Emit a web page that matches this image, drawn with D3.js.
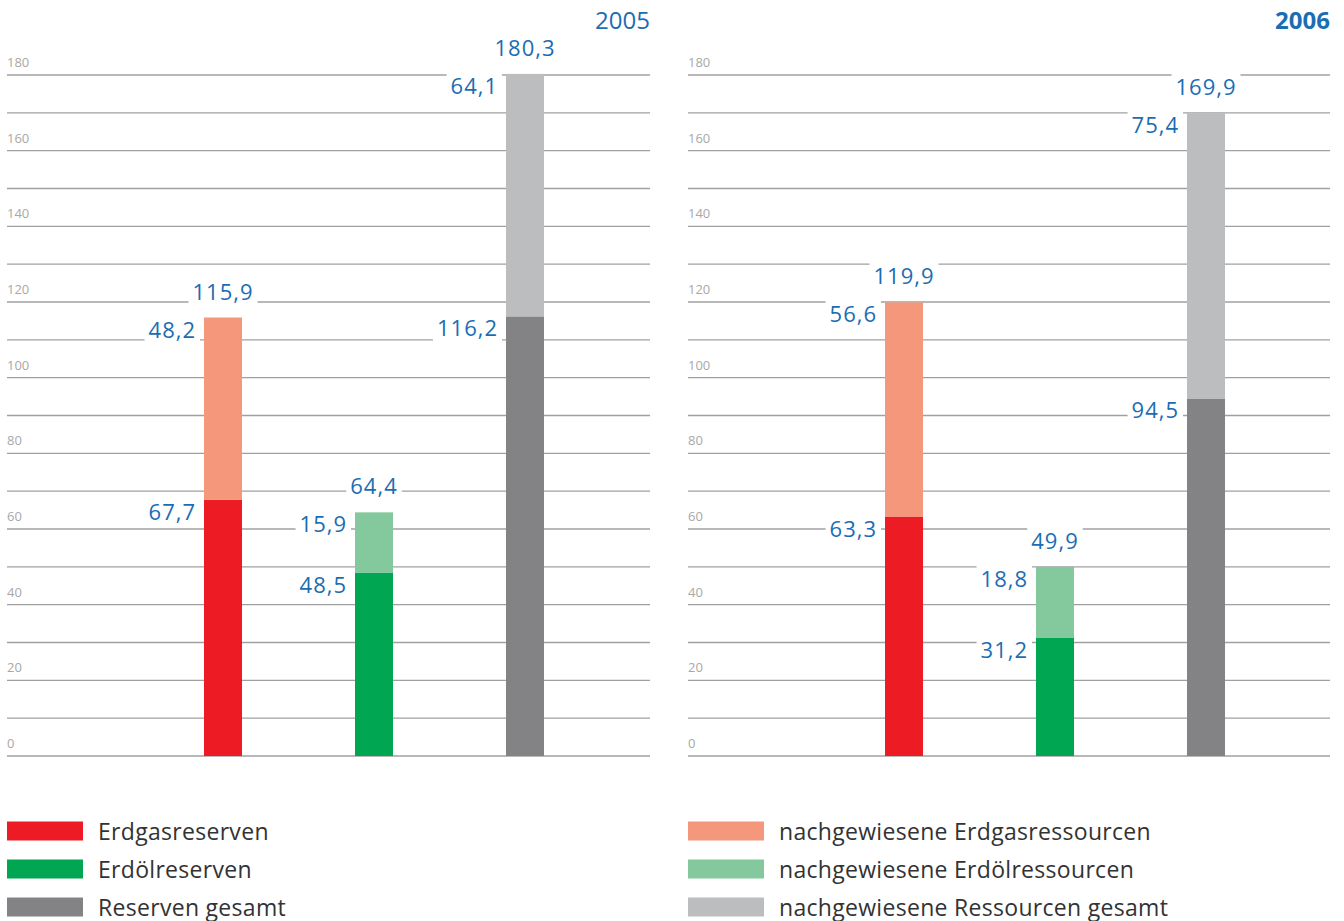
<!DOCTYPE html>
<html><head><meta charset="utf-8">
<script src="https://cdn.jsdelivr.net/npm/d3@7"></script>
<style>
html,body{margin:0;padding:0;background:#fff;}
svg{display:block;font-family:"Open Sans",sans-serif;}
</style></head>
<body><svg id="chart" width="1344" height="921"></svg>
<script>
// ---- data ----
const years = ["2005", "2006"];
const categories = ["Erdgas", "Erdöl", "Gesamt"];
const reserves2005 = [67.7, 48.5, 116.2];
const resources2005 = [48.2, 15.9, 64.1];
const totals2005 = [115.9, 64.4, 180.3];
const reserves2006 = [63.3, 31.2, 94.5];
const resources2006 = [56.6, 18.8, 75.4];
const totals2006 = [119.9, 49.9, 169.9];
const yTicks = [0, 20, 40, 60, 80, 100, 120, 140, 160, 180];
const legendLeft = ["Erdgasreserven", "Erdölreserven", "Reserven gesamt"];
const legendRight = ["nachgewiesene Erdgasressourcen", "nachgewiesene Erdölressourcen", "nachgewiesene Ressourcen gesamt"];

const reserveColors = ["#ed1c24", "#00a651", "#838385"];
const resourceColors = ["#f4977a", "#84c99d", "#bcbdbf"];
const blue = "#1b6db3";
const fmt = v => d3.format(".1f")(v).replace(".", ",");

const svg = d3.select("#chart");
const y = d3.scaleLinear().domain([0, 180]).range([756, 75]);
const gridVals = d3.range(0, 181, 10);

const panels = [
  {year: years[0], x0: 7, x1: 650, res: reserves2005, rsc: resources2005, tot: totals2005, bold: false},
  {year: years[1], x0: 688, x1: 1330, res: reserves2006, rsc: resources2006, tot: totals2006, bold: true}
];

panels.forEach(p => {
  const g = svg.append("g");
  const x = d3.scalePoint().domain(categories).range([p.x0 + 216, p.x0 + 518]);
  const bw = 38;
  // grid
  g.append("g").selectAll("line").data(gridVals).join("line")
    .attr("x1", p.x0).attr("x2", p.x1)
    .attr("y1", d => y(d)).attr("y2", d => y(d))
    .attr("stroke", "#a0a0a0").attr("stroke-width", 1.4);
  // tick labels
  g.append("g").selectAll("text").data(yTicks).join("text")
    .attr("x", p.x0).attr("y", d => y(d) - 8)
    .attr("fill", "#a8a8a8").attr("font-size", 13)
    .text(d => d);
  // bars
  categories.forEach((c, i) => {
    const cx = x(c);
    g.append("rect").attr("x", cx - bw / 2).attr("width", bw)
      .attr("y", y(p.res[i])).attr("height", y(0) - y(p.res[i]))
      .attr("fill", reserveColors[i]);
    g.append("rect").attr("x", cx - bw / 2).attr("width", bw)
      .attr("y", y(p.res[i] + p.rsc[i])).attr("height", y(p.res[i]) - y(p.res[i] + p.rsc[i]))
      .attr("fill", resourceColors[i]);
  });
  // labels with white background
  const labels = [];
  categories.forEach((c, i) => {
    const cx = x(c);
    labels.push({x: cx, y: y(p.tot[i]) - 18, anchor: "middle", t: fmt(p.tot[i])});
    labels.push({x: cx - bw / 2 - 8, y: y(p.res[i] + p.rsc[i]) + 20, anchor: "end", t: fmt(p.rsc[i])});
    labels.push({x: cx - bw / 2 - 8, y: y(p.res[i]) + 20, anchor: "end", t: fmt(p.res[i])});
  });
  labels.forEach(l => {
    const bg = g.append("rect").attr("fill", "#fff");
    const t = g.append("text").attr("x", l.x).attr("y", l.y)
      .attr("text-anchor", l.anchor).attr("fill", blue)
      .attr("font-size", 22).attr("letter-spacing", 1).text(l.t);
    const b = t.node().getBBox();
    bg.attr("x", b.x - 4).attr("y", b.y).attr("width", b.width + 8).attr("height", b.height);
  });
  // year
  g.append("text").attr("x", p.x1).attr("y", 29).attr("text-anchor", "end")
    .attr("fill", blue).attr("font-size", 24).attr("font-weight", p.bold ? "bold" : "normal")
    .text(p.year);
});

// legends
function legend(x0, names, colors) {
  const g = svg.append("g");
  names.forEach((n, i) => {
    const cy = 831 + i * 38;
    g.append("rect").attr("x", x0).attr("y", cy - 9.5).attr("width", 76).attr("height", 19).attr("fill", colors[i]);
    g.append("text").attr("x", x0 + 91).attr("y", cy + 8.5).attr("fill", "#333")
      .attr("font-size", 23).attr("letter-spacing", 0.3).text(n);
  });
}
legend(7, legendLeft, reserveColors);
legend(688, legendRight, resourceColors);
</script></body></html>
